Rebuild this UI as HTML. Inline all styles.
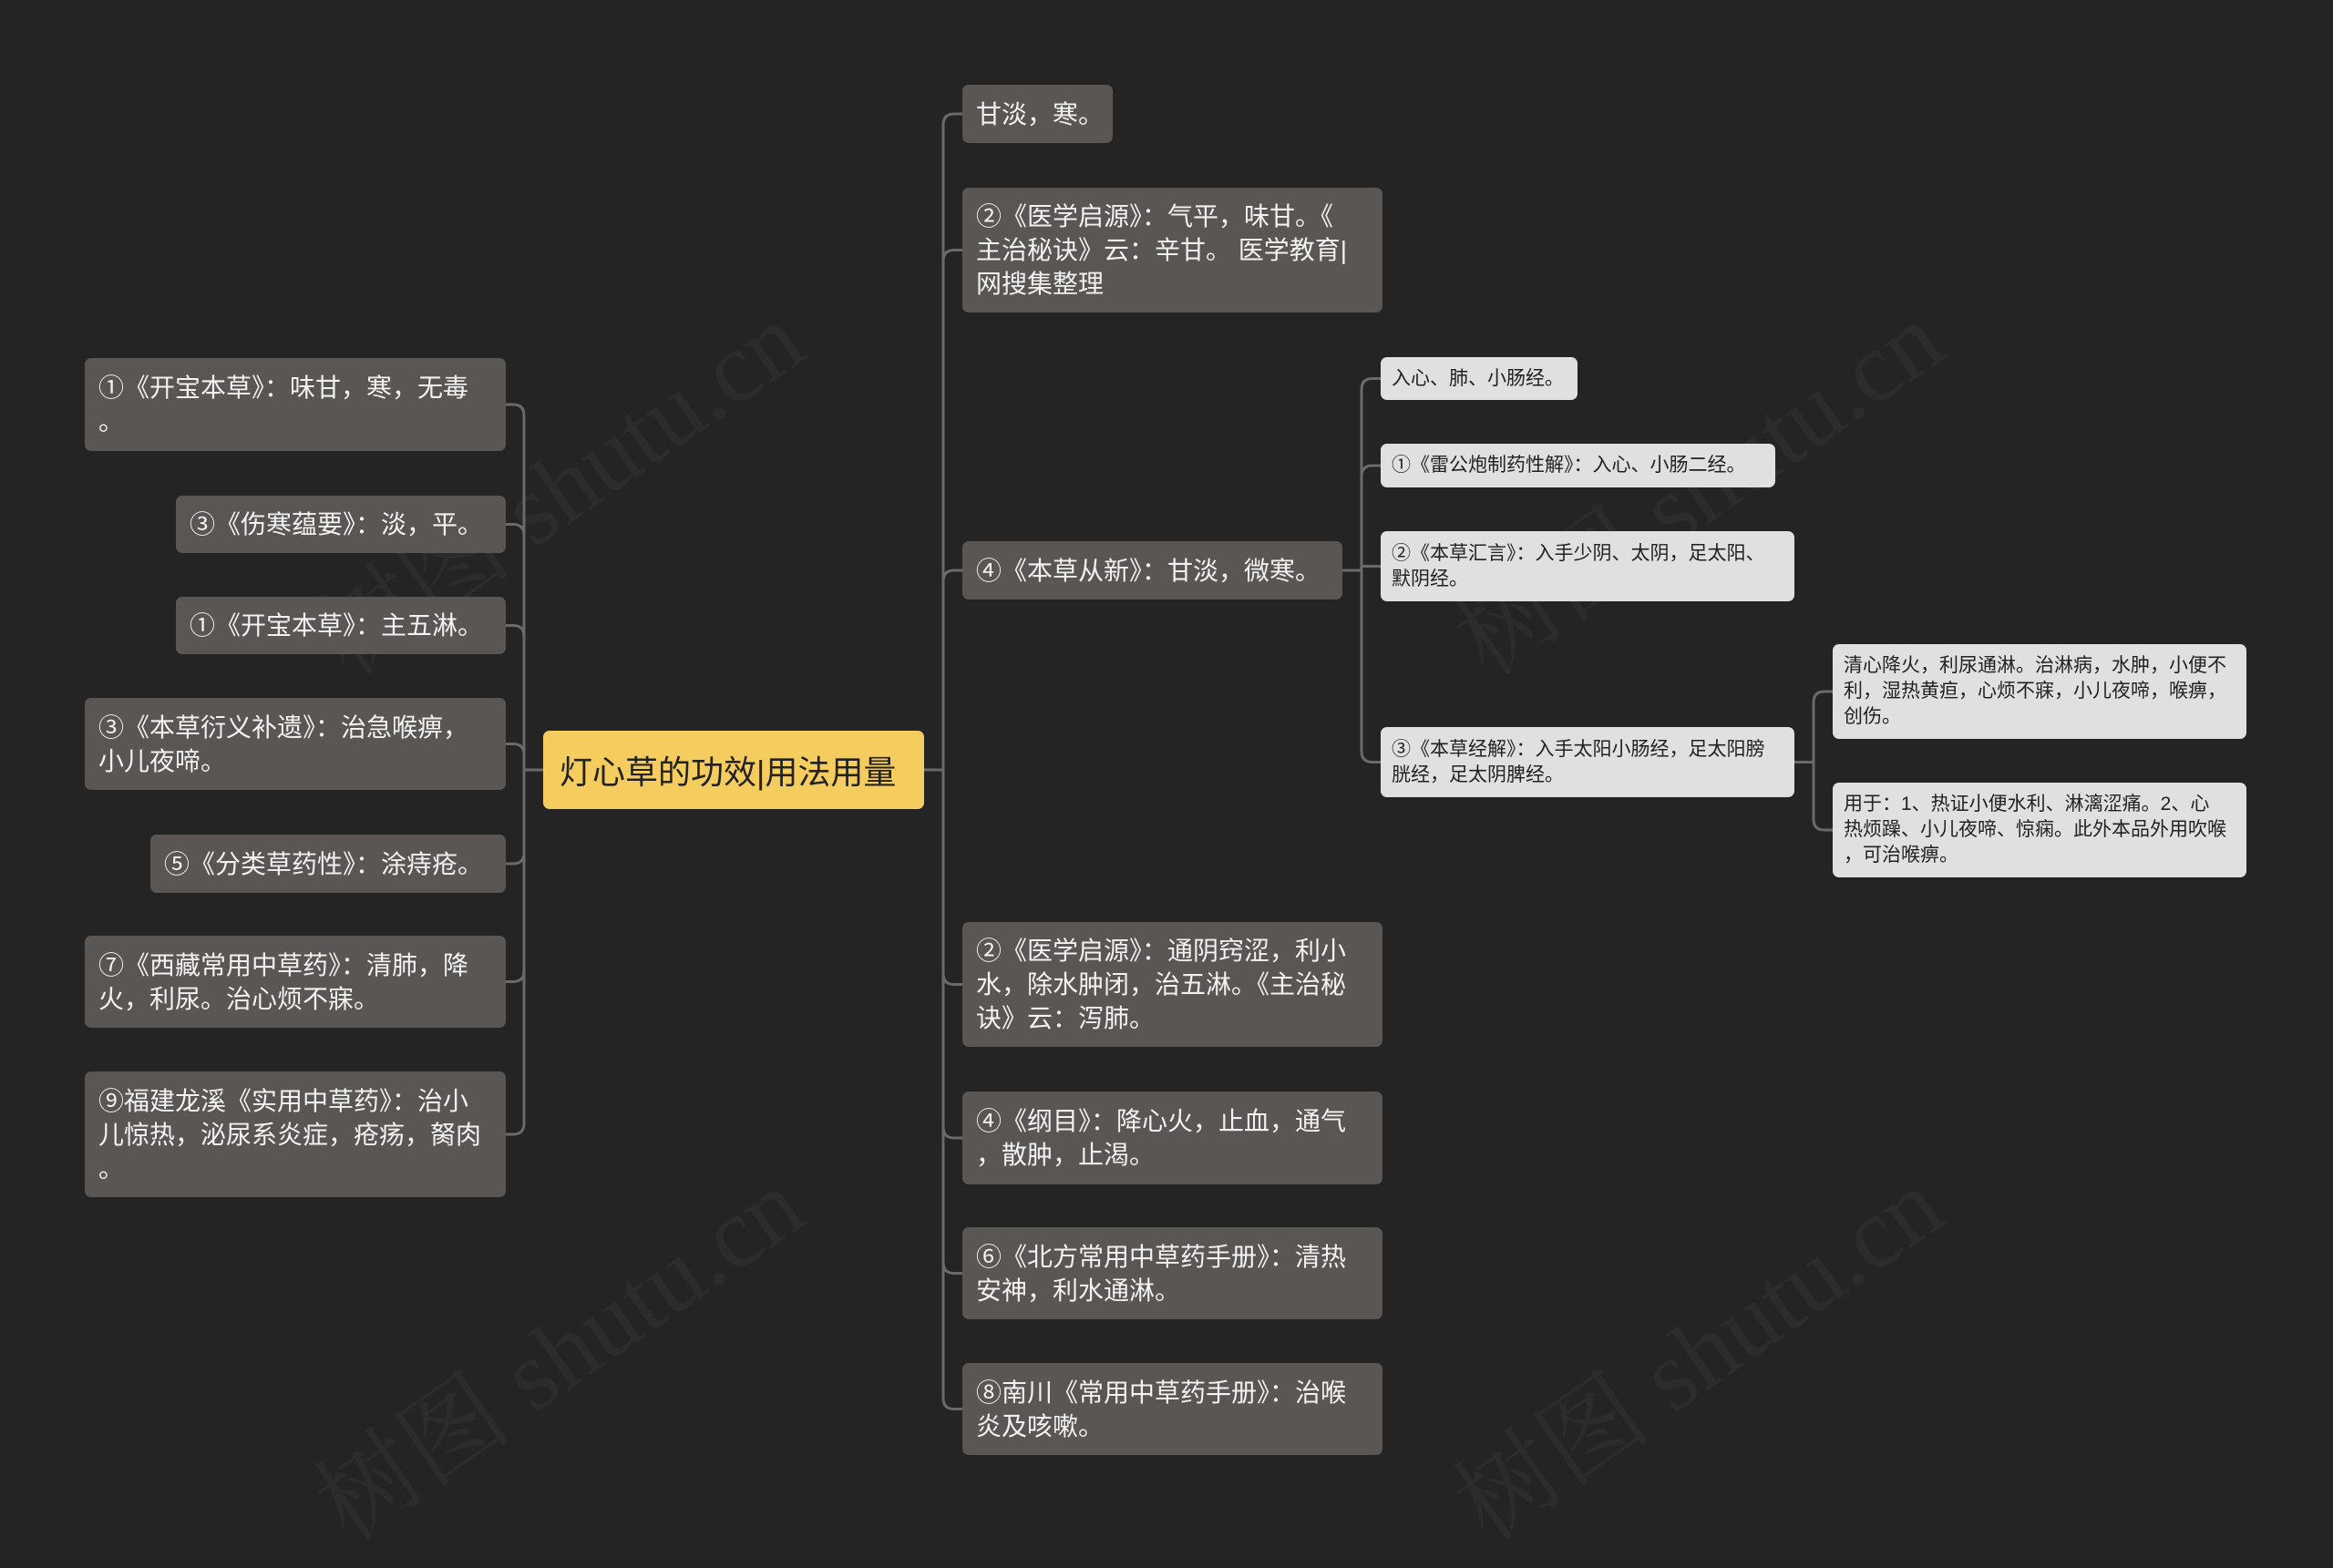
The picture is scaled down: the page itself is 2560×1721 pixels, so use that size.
<!DOCTYPE html>
<html><head><meta charset="utf-8">
<style>
body{margin:0;width:2560px;height:1691px;background:#242424;overflow:hidden;position:relative;font-family:"Liberation Sans","Noto Sans CJK SC",sans-serif;}
.n{position:absolute;box-sizing:border-box;border-radius:7px;display:flex;align-items:center;white-space:nowrap;}
.d{background:#5a5654;color:#f2f2f2;font-size:28px;line-height:37px;padding:0 15px;}
.l{background:#e0e0e0;color:#222;font-size:21px;line-height:28px;padding:0 12px;}
.r{background:#f5cd5f;color:#222;font-size:36px;padding:0 18px;}
svg{position:absolute;left:0;top:0}
.wm{position:absolute;color:rgba(255,255,255,0.04);font-size:110px;transform:rotate(-35deg);font-family:"Liberation Serif","Noto Serif CJK SC",serif;white-space:nowrap}
</style></head><body>
<div class="wm" style="left:300px;top:450px">树图 shutu.cn</div>
<div class="wm" style="left:1550px;top:450px">树图 shutu.cn</div>
<div class="wm" style="left:300px;top:1400px">树图 shutu.cn</div>
<div class="wm" style="left:1550px;top:1400px">树图 shutu.cn</div>
<svg id="s" width="2560" height="1691"></svg>

<div class="n r" id="root" style="left:596px;top:802px;width:418px;height:86px">灯心草的功效|用法用量</div>

<div class="n d L" style="left:93px;top:393px;width:462px;height:102px">①《开宝本草》：味甘，寒，无毒<br>。</div>
<div class="n d L" style="left:193px;top:544px;width:362px;height:63px">③《伤寒蕴要》：淡，平。</div>
<div class="n d L" style="left:193px;top:655px;width:362px;height:63px">①《开宝本草》：主五淋。</div>
<div class="n d L" style="left:93px;top:766px;width:462px;height:101px">③《本草衍义补遗》：治急喉痹，<br>小儿夜啼。</div>
<div class="n d L" style="left:165px;top:916px;width:390px;height:64px">⑤《分类草药性》：涂痔疮。</div>
<div class="n d L" style="left:93px;top:1027px;width:462px;height:101px">⑦《西藏常用中草药》：清肺，降<br>火，利尿。治心烦不寐。</div>
<div class="n d L" style="left:93px;top:1176px;width:462px;height:138px">⑨福建龙溪《实用中草药》：治小<br>儿惊热，泌尿系炎症，疮疡，胬肉<br>。</div>

<div class="n d R" style="left:1056px;top:93px;width:165px;height:64px">甘淡，寒。</div>
<div class="n d R" style="left:1056px;top:206px;width:461px;height:137px">②《医学启源》：气平，味甘。《<br>主治秘诀》云：辛甘。 医学教育|<br>网搜集整理</div>
<div class="n d R" id="r3" style="left:1056px;top:594px;width:417px;height:64px">④《本草从新》：甘淡，微寒。</div>
<div class="n d R" style="left:1056px;top:1012px;width:461px;height:137px">②《医学启源》：通阴窍涩，利小<br>水，除水肿闭，治五淋。《主治秘<br>诀》云：泻肺。</div>
<div class="n d R" style="left:1056px;top:1198px;width:461px;height:102px">④《纲目》：降心火，止血，通气<br>，散肿，止渴。</div>
<div class="n d R" style="left:1056px;top:1347px;width:461px;height:101px">⑥《北方常用中草药手册》：清热<br>安神，利水通淋。</div>
<div class="n d R" style="left:1056px;top:1496px;width:461px;height:101px">⑧南川《常用中草药手册》：治喉<br>炎及咳嗽。</div>

<div class="n l S" style="left:1515px;top:392px;width:216px;height:47px">入心、肺、小肠经。</div>
<div class="n l S" style="left:1515px;top:487px;width:433px;height:48px">①《雷公炮制药性解》：入心、小肠二经。</div>
<div class="n l S" style="left:1515px;top:583px;width:454px;height:77px">②《本草汇言》：入手少阴、太阴，足太阳、<br>默阴经。</div>
<div class="n l S" id="s4" style="left:1515px;top:798px;width:454px;height:77px">③《本草经解》：入手太阳小肠经，足太阳膀<br>胱经，足太阴脾经。</div>

<div class="n l T" style="left:2011px;top:707px;width:454px;height:104px">清心降火，利尿通淋。治淋病，水肿，小便不<br>利，湿热黄疸，心烦不寐，小儿夜啼，喉痹，<br>创伤。</div>
<div class="n l T" style="left:2011px;top:859px;width:454px;height:104px">用于：1、热证小便水利、淋漓涩痛。2、心<br>热烦躁、小儿夜啼、惊痫。此外本品外用吹喉<br>，可治喉痹。</div>

<script>
var s=document.getElementById('s'),out='';
function box(e){return {x:e.offsetLeft,y:e.offsetTop,w:e.offsetWidth,h:e.offsetHeight};}
function conn(p,kids,spine,left){
  var pb=box(p),py=pb.y+pb.h/2,px=left?pb.x:pb.x+pb.w,r=12;
  var d='M'+px+','+py+' H'+spine;
  kids.forEach(function(k){
    var b=box(k),cy=b.y+b.h/2,cx=left?b.x+b.w:b.x,dir=cy>py?1:-1,hd=left?-1:1;
    if(Math.abs(cy-py)<r){d+=' M'+spine+','+py+' V'+cy+' H'+cx;return;}
    d+=' M'+spine+','+py+' V'+(cy-dir*r)+' Q'+spine+','+cy+' '+(spine+hd*r)+','+cy+' H'+cx;
  });
  out+='<path d="'+d+'" fill="none" stroke="#6a6a6a" stroke-width="3"/>';
}
var root=document.getElementById('root');
conn(root,[].slice.call(document.querySelectorAll('.L')),575,true);
conn(root,[].slice.call(document.querySelectorAll('.R')),1035,false);
conn(document.getElementById('r3'),[].slice.call(document.querySelectorAll('.S')),1494,false);
conn(document.getElementById('s4'),[].slice.call(document.querySelectorAll('.T')),1990,false);
s.innerHTML=out;
</script>
</body></html>
